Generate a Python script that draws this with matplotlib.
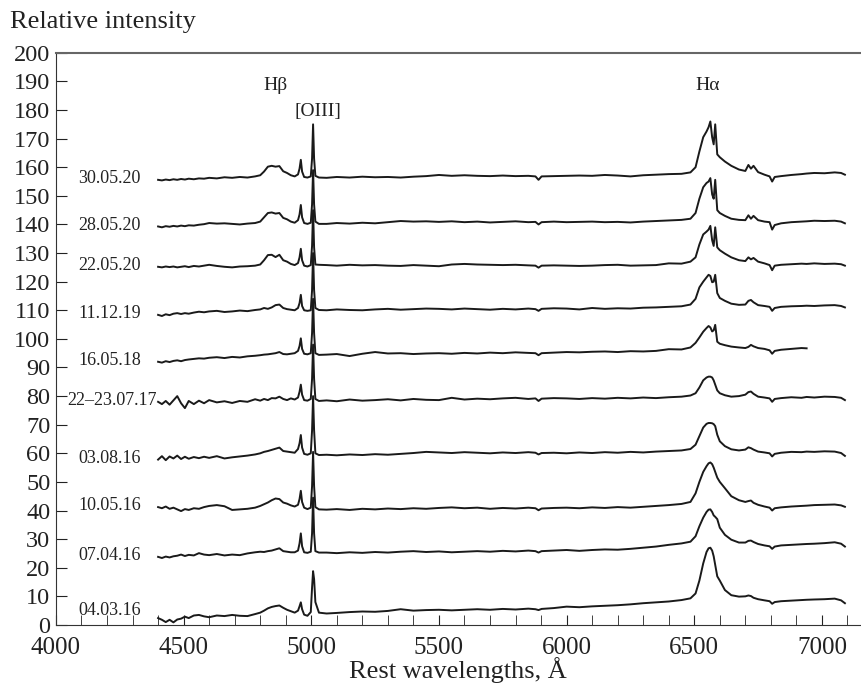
import numpy as np
import matplotlib
matplotlib.use("Agg")
import matplotlib.pyplot as plt
from matplotlib.ticker import MultipleLocator

plt.rcParams['font.family'] = ['Liberation Serif', 'DejaVu Serif']

# ======= wavelength grid (rest, Angstrom) =======
wave = [4400, 4415, 4430, 4445, 4460, 4475, 4490, 4505, 4520, 4540, 4560, 4580, 4600, 4630, 4660, 4690, 4720, 4750, 4780, 4800,
        4815, 4830, 4845, 4860, 4875, 4890, 4905, 4920, 4935,
        4948, 4954, 4959, 4964, 4972,
        4985, 4998, 5003, 5007, 5011, 5016, 5030,
        5060, 5100, 5150, 5200, 5250, 5300, 5350, 5400, 5450, 5500, 5550, 5600, 5650, 5700, 5750, 5800, 5850, 5878, 5890, 5902,
        5950, 6000, 6050, 6100, 6150, 6200, 6250, 6300, 6350, 6400, 6450,
        6485, 6505, 6520, 6535, 6548, 6556, 6563, 6570, 6576, 6582, 6590, 6600, 6620, 6645, 6675, 6700, 6712, 6722, 6732, 6750,
        6775, 6795, 6805, 6815, 6840, 6880, 6920, 6940, 6970, 7010, 7050, 7075, 7090]

# ======= spectra (relative intensity, already shifted) =======
s_300520 = [155.6, 155.4, 155.7, 155.5, 155.8, 155.6, 155.9, 155.7, 156.0, 155.8, 156.1, 156.0, 156.3, 156.1, 156.5, 156.3, 156.6, 156.4, 156.8, 157.2,
            158.5, 160.2, 160.5, 160.2, 160.4, 158.6, 158.0, 157.2, 156.8,
            157.5, 159.5, 162.6, 158.5, 156.6,
            156.4, 156.8, 163.0, 175.0, 163.0, 157.0, 156.4,
            156.3, 156.6, 156.4, 156.7, 156.5, 156.6, 156.4, 156.7, 156.9, 157.3, 157.0, 157.2, 157.0, 156.9, 157.1, 156.9, 157.0, 156.8, 155.6, 156.8,
            156.9, 157.0, 157.1, 157.0, 157.3, 157.1, 156.8, 157.2, 157.4, 157.6, 157.7,
            158.2, 160.0, 165.5, 170.5, 172.5, 174.0, 176.0, 170.5, 168.0, 175.0, 164.5, 163.5, 162.0, 160.5, 159.2, 158.7, 160.8, 159.5, 160.5, 158.3,
            157.4, 156.8, 155.0, 156.6, 156.9, 157.3, 157.6, 157.8, 158.0, 157.9, 158.2, 158.0, 157.4]
s_280520 = [139.3, 139.0, 139.4, 139.2, 139.5, 139.3, 139.6, 139.4, 139.7, 139.6, 139.9, 140.1, 140.5, 140.3, 140.4, 140.2, 140.0, 140.3, 140.5, 141.0,
            142.5, 144.0, 144.2, 143.8, 144.0, 142.3, 141.8, 141.0, 140.6,
            141.5, 143.5, 146.8, 142.5, 140.5,
            140.2, 140.6, 147.0, 159.0, 147.0, 141.0, 140.2,
            140.2, 140.5, 140.3, 140.6, 140.4, 140.8, 141.2, 141.0, 141.1, 140.9, 141.1, 140.8, 141.0, 140.7, 140.9, 141.1, 140.8, 140.9, 140.0, 140.8,
            141.0, 140.8, 140.9, 141.0, 140.8, 140.9, 140.7, 141.0, 141.2, 141.4, 141.6,
            142.0, 144.0, 149.0, 153.0, 154.5, 155.0, 156.2, 150.5, 149.0, 155.6, 145.0, 144.0, 143.0, 142.0, 141.6, 141.5, 143.2, 142.0, 143.0, 141.5,
            141.0, 140.8, 138.2, 139.8, 140.4, 140.8, 141.0, 141.1, 141.3, 141.2, 141.3, 141.0, 140.4]
s_220520 = [125.2, 125.0, 125.3, 125.1, 125.3, 125.0, 125.2, 125.4, 125.1, 125.5, 125.3, 125.6, 125.9, 125.5, 125.2, 125.0, 125.3, 125.4, 125.6, 126.0,
            127.5, 129.3, 129.4, 128.6, 129.4, 127.5, 127.0, 126.2, 125.8,
            126.5, 128.5, 131.5, 127.5, 125.6,
            125.3, 125.8, 132.5, 145.0, 132.0, 126.0, 125.9,
            125.8, 125.6, 125.9, 125.7, 125.8, 125.6, 125.5, 125.8, 125.6, 125.4, 126.0, 126.2, 126.0, 125.9, 125.8, 125.9, 125.7, 125.6, 124.9, 125.6,
            125.7, 125.6, 125.5, 125.6, 125.8, 125.9, 125.6, 125.7, 125.8, 126.4, 126.3,
            127.0, 128.5, 133.0, 136.5, 137.5, 138.2, 139.5, 134.5, 132.5, 139.0, 132.0, 131.0, 129.8, 128.5, 127.5, 127.2, 128.5, 127.8, 128.3, 127.0,
            126.4, 125.8, 124.0, 125.6, 125.9, 126.1, 126.3, 126.2, 126.4, 126.2, 126.3, 126.1, 125.6]
s_111219 = [108.4, 108.0, 108.6, 108.3, 108.8, 109.0, 108.7, 109.0, 108.8, 109.2, 109.5, 109.3, 109.6, 109.8, 109.4, 109.6, 109.9, 109.7, 110.1, 110.3,
            110.8, 110.5, 111.0, 111.8, 112.0, 110.8, 110.4, 110.2, 110.0,
            110.8, 112.5, 115.4, 111.5, 110.0,
            109.8, 110.0, 117.0, 130.0, 117.0, 110.8, 110.1,
            110.0, 110.3, 110.1, 110.0, 110.3, 110.5, 110.2, 110.4, 110.6, 110.5, 110.3, 110.6, 110.4, 110.2, 110.5, 110.3, 110.6, 110.4, 109.8, 110.5,
            110.7, 110.6, 110.3, 110.8, 110.5, 110.7, 110.6, 110.9, 111.0, 111.2, 111.4,
            112.0, 114.0, 118.0, 120.0, 121.5, 122.4, 122.0, 119.8, 120.0, 122.4, 116.0, 114.3, 113.3, 112.3, 111.9, 112.0, 113.3, 113.6, 112.8, 111.8,
            111.5, 111.2, 109.8, 110.8, 111.2, 111.4, 111.5, 111.6, 111.5, 111.7, 111.8, 111.5, 111.0]
s_160518 = [92.0, 91.7, 92.2, 91.9, 92.3, 92.5, 92.2, 92.6, 92.8, 93.0, 93.2, 93.1, 93.4, 93.6, 93.3, 93.7, 93.5, 93.9, 94.1, 94.3,
            94.5, 94.6, 94.8, 95.0, 95.4, 94.7, 94.6, 94.8, 95.0,
            95.8, 97.5, 100.2, 96.5, 94.8,
            94.6, 95.0, 102.0, 114.0, 102.0, 95.0, 94.4,
            94.5, 94.7, 94.0, 94.8, 95.4, 94.9, 95.0, 94.7, 94.9, 95.0, 94.8, 95.1, 94.9, 95.2, 95.0, 95.3, 95.1, 95.0, 94.3, 95.0,
            95.2, 95.4, 95.3, 95.5, 95.6, 95.4, 95.7, 95.6, 95.8, 96.4, 96.3,
            97.0, 98.6, 100.5, 102.5, 103.8, 104.5, 104.0, 102.6, 103.0, 104.9, 99.0, 98.3, 97.8, 97.3, 97.0, 96.8, 97.2, 97.9, 97.4, 96.8,
            96.5, 96.0, 94.8, 95.8, 96.2, 96.5, 96.8, 96.7, None, None, None, None, None]
s_220717 = [78.0, 77.2, 78.3, 77.0, 78.5, 80.0, 77.5, 75.8, 78.3, 77.2, 78.4, 77.5, 78.6, 77.8, 78.2, 77.6, 78.3, 78.0, 78.9, 78.4,
            79.0, 78.6, 79.3, 79.2, 79.8, 79.0, 78.6, 79.2, 78.8,
            79.5, 81.5, 84.0, 80.5, 78.6,
            78.4, 79.0, 86.0, 98.0, 86.0, 79.0, 78.3,
            78.5, 78.2, 78.8, 78.4, 78.6, 78.9, 78.5, 79.0, 78.7, 78.6, 79.4, 78.8, 79.1, 78.9, 79.2, 79.4, 79.0, 79.2, 78.3, 79.1,
            79.3, 79.2, 79.0, 79.3, 79.1, 79.4, 79.2, 79.5, 79.3, 79.6, 79.8,
            80.2, 81.0, 83.0, 85.5, 86.5, 86.8, 86.8, 86.5, 85.5, 84.0, 82.0, 81.0, 80.3, 79.8, 80.0, 80.5, 81.4, 81.6, 80.8, 79.8,
            79.5, 79.2, 78.0, 79.0, 79.3, 79.6, 79.4, 79.7, 79.5, 79.8, 79.7, 79.4, 78.6]
s_030816 = [57.8, 59.0, 57.6, 58.9, 58.2, 59.2, 58.0, 58.8, 58.1, 58.7, 58.3, 58.8, 58.4, 59.0, 58.2, 58.6, 58.9, 59.2, 59.6, 60.0,
            60.5, 60.8, 61.2, 61.6, 62.0, 60.8, 60.6, 60.4, 60.2,
            61.5, 63.5, 66.4, 62.0, 59.8,
            59.5, 60.0, 68.0, 80.0, 68.0, 60.0, 59.4,
            59.5, 59.3, 59.6, 59.4, 59.7, 59.5, 59.8, 60.1, 60.5, 60.3, 60.1, 60.4, 60.2, 60.0, 60.3, 60.1, 60.4, 60.2, 59.6, 60.1,
            60.2, 60.0, 60.3, 60.1, 60.4, 60.2, 60.5, 60.3, 60.6, 60.8, 61.0,
            61.5, 63.0, 66.0, 69.0, 70.3, 70.6, 70.6, 70.5, 70.2, 69.5, 66.5, 64.2, 62.5, 61.4, 61.0, 61.3, 62.1, 61.8, 61.3, 60.6,
            60.3, 60.0, 58.9, 59.8, 60.2, 60.5, 60.4, 60.6, 60.5, 60.7, 60.6, 60.1, 59.1]
s_100516 = [41.2, 40.8, 41.4, 40.6, 41.0, 40.4, 39.8, 40.5, 40.2, 40.8, 40.6, 41.2, 41.6, 41.9, 41.5, 40.2, 40.4, 40.6, 41.0, 41.6,
            42.2, 42.8, 43.6, 44.2, 44.0, 42.8, 42.4, 41.8, 41.4,
            42.0, 44.0, 46.9, 43.0, 41.0,
            40.5, 41.0, 48.5, 60.5, 48.5, 41.2, 40.4,
            40.3, 40.5, 40.2, 40.6, 40.4, 40.7, 40.5, 40.8, 40.6, 40.9, 41.1, 40.8, 41.0, 40.6, 40.9, 40.7, 41.0, 40.8, 40.1, 40.7,
            40.9, 41.0, 40.8, 41.1, 40.9, 41.2, 41.0, 41.3, 41.6, 41.9, 42.3,
            43.0, 46.0, 50.0, 53.5, 55.5, 56.5, 56.8, 56.2, 55.0, 53.5, 51.5, 50.0, 47.8, 45.0, 43.6, 43.0, 43.3, 43.5, 42.7, 42.0,
            41.4, 41.0, 40.0, 40.8, 41.1, 41.4, 41.6, 41.7, 41.9, 42.0, 42.1, 41.8, 41.3]
s_070416 = [23.8, 23.4, 23.9, 23.6, 24.0, 24.2, 24.6, 24.1, 24.5, 24.3, 25.1, 24.6, 24.4, 24.8, 24.3, 24.6, 24.4, 25.0, 25.4, 25.6,
            25.5, 25.8, 26.0, 26.4, 26.8, 25.8, 25.6, 25.4, 25.4,
            26.0, 28.5, 32.0, 27.5, 25.4,
            25.2, 25.6, 32.0, 44.5, 32.0, 25.8, 25.3,
            25.3, 25.1, 25.4, 25.2, 25.5, 25.3, 25.6, 25.8, 25.5, 25.7, 25.4, 25.6, 25.8, 25.6, 25.9, 25.7, 26.0, 25.8, 25.3, 25.8,
            26.0, 26.2, 25.9, 26.2, 26.4, 26.3, 26.6, 27.0, 27.4, 28.0, 28.5,
            29.1, 31.0, 34.5, 37.5, 39.5, 40.3, 40.4, 39.5, 38.3, 37.8, 37.0, 34.0, 31.5, 29.8, 28.8, 28.8, 29.4, 29.5, 29.0, 28.3,
            27.8, 27.5, 26.6, 27.4, 27.8, 28.0, 28.2, 28.3, 28.4, 28.6, 28.9, 28.4, 27.4]
s_040316 = [2.4, 1.8, 1.0, 1.8, 0.9, 1.9, 2.2, 2.9, 2.4, 3.3, 3.5, 3.0, 2.7, 3.3, 3.1, 3.5, 3.2, 3.1, 3.8, 4.3,
            5.0, 5.8, 6.3, 6.6, 6.8, 6.0, 5.3, 4.8, 4.3,
            5.0, 6.5, 7.9, 5.5, 3.6,
            3.2, 4.5, 13.0, 18.8, 16.0, 8.0, 4.3,
            4.0, 4.2, 4.5, 4.7, 4.6, 4.9, 5.5, 5.0, 5.2, 5.3, 5.1, 5.3, 5.5, 5.3, 5.6, 5.4, 5.7, 5.5, 5.2, 5.6,
            5.9, 6.4, 6.2, 6.5, 6.7, 6.9, 7.2, 7.6, 7.9, 8.2, 8.7,
            9.3, 11.0, 15.5, 21.5, 25.5, 26.8, 27.0, 26.0, 24.0, 21.0, 17.0, 15.5, 12.2, 10.4, 9.9, 10.0, 10.3, 10.1, 9.5, 9.0,
            8.6, 8.3, 7.4, 8.0, 8.3, 8.5, 8.7, 8.8, 8.9, 9.0, 9.2, 8.6, 7.6]

dates = ["30.05.20", "28.05.20", "22.05.20", "11.12.19", "16.05.18",
         "22\u201323.07.17", "03.08.16", "10.05.16", "07.04.16", "04.03.16"]
spectra = [s_300520, s_280520, s_220520, s_111219, s_160518,
           s_220717, s_030816, s_100516, s_070416, s_040316]

line_names = ["H\u03b2", "[OIII]", "H\u03b1"]
line_pos = [4858, 5026, 6554]
line_lvl = [188.5, 179.5, 188.5]

# ======= plot =======
fig = plt.figure(figsize=(8.61, 6.86), dpi=100)
ax = fig.add_axes([0.065, 0.089, 0.935, 0.834])

w = np.array(wave, dtype=float)
for date, spec in zip(dates, spectra):
    y = np.array([np.nan if v is None else v for v in spec], dtype=float)
    ax.plot(w, y, color="#1a1a1a", lw=1.4, solid_joinstyle="round")
    xl = 4045 if len(date) > 8 else 4088
    yl = y[0] + (2.5 if date == "04.03.16" else 0.5)
    ax.text(xl, yl, date, fontsize=13, ha="left", va="center", color="#222222")

for name, xp, yp in zip(line_names, line_pos, line_lvl):
    ax.text(xp, yp, name, fontsize=14, ha="center", va="center", color="#222222")

ax.set_xlim(4000, 7153)
ax.set_ylim(0, 200)
ax.xaxis.set_major_locator(MultipleLocator(500))
ax.xaxis.set_minor_locator(MultipleLocator(100))
ax.yaxis.set_major_locator(MultipleLocator(10))
ax.tick_params(axis="both", which="both", direction="in", colors="#222222")
ax.tick_params(axis="x", which="both", length=7, pad=9, top=False, labelsize=18)
ax.tick_params(axis="y", which="major", length=8, pad=4, right=False, labelsize=17.5)

ax.spines["right"].set_visible(False)
ax.spines["top"].set_color("#666666")
ax.spines["top"].set_linewidth(1.5)
ax.spines["left"].set_color("#333333")
ax.spines["bottom"].set_color("#333333")

# axis titles placed as figure text, like the journal layout
fig.text(0.532, 0.004, "Rest wavelengths, \u00c5", fontsize=19, ha="center", va="bottom", color="#222222")
fig.text(0.012, 0.968, "Relative intensity", fontsize=19, ha="left", va="center", color="#222222")

fig.savefig("out.png", dpi=100)
